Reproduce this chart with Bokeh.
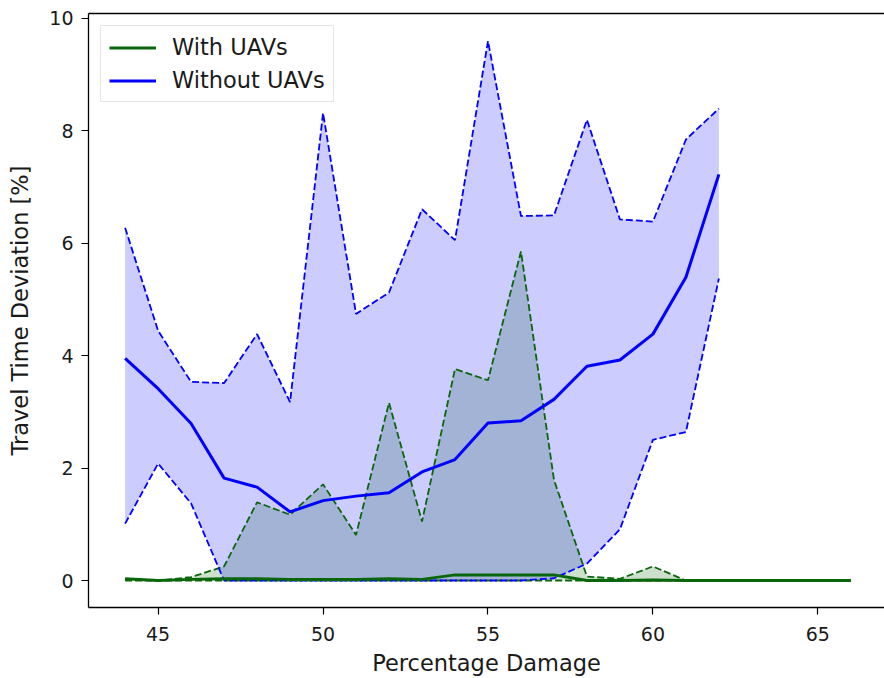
from bokeh.plotting import figure
from bokeh.models import Range1d, LinearAxis, FixedTicker, Legend, LegendItem
from bokeh.embed import file_html
from bokeh.resources import INLINE

# ---- data ----
damage_without = [44, 45, 46, 47, 48, 49, 50, 51, 52, 53, 54, 55, 56, 57, 58, 59, 60, 61, 62]
without_mean = [3.95, 3.41, 2.79, 1.82, 1.66, 1.22, 1.42, 1.50, 1.56, 1.93, 2.15, 2.80,
                2.84, 3.22, 3.81, 3.92, 4.38, 5.39, 7.22]
without_upper = [6.27, 4.44, 3.53, 3.51, 4.38, 3.17, 8.31, 4.74, 5.12, 6.60, 6.05, 9.59,
                 6.48, 6.49, 8.19, 6.42, 6.38, 7.84, 8.39]
without_lower = [1.01, 2.08, 1.37, 0.0, 0.0, 0.0, 0.0, 0.0, 0.0, 0.0, 0.0, 0.0,
                 0.0, 0.04, 0.30, 0.91, 2.50, 2.64, 5.37]

damage_with = [44, 45, 46, 47, 48, 49, 50, 51, 52, 53, 54, 55, 56, 57, 58, 59, 60, 61,
               62, 63, 64, 65, 66]
with_mean = [0.03, 0.0, 0.02, 0.03, 0.03, 0.02, 0.02, 0.02, 0.03, 0.02, 0.10, 0.10,
             0.10, 0.10, 0.0, 0.0, 0.01, 0.0, 0.0, 0.0, 0.0, 0.0, 0.0]
with_upper = [0.03, 0.0, 0.06, 0.25, 1.39, 1.17, 1.71, 0.81, 3.16, 1.05, 3.76, 3.56,
              5.85, 1.79, 0.07, 0.03, 0.25, 0.0, 0.0, 0.0, 0.0, 0.0, 0.0]
with_lower = [0.0] * len(damage_with)

x_ticks = [45, 50, 55, 60, 65]
y_ticks = [0, 2, 4, 6, 8, 10]

x_label = "Percentage Damage"
y_label = "Travel Time Deviation [%]"
legend_labels = ["With UAVs", "Without UAVs"]

# ---- styles ----
GREEN = "#0a660a"
BLUE = "#0000ff"
FONT = "DejaVu Sans"
TXT = "#1a1a1a"

p = figure(width=884, height=678, output_backend="svg", toolbar_location=None,
           x_range=Range1d(42.89, 67.02), y_range=Range1d(-0.48, 10.08),
           min_border_left=88, min_border_right=0, min_border_top=13, min_border_bottom=70)
p.outline_line_color = None
p.xgrid.visible = False
p.ygrid.visible = False
p.background_fill_color = "white"
p.border_fill_color = "white"

for ax in (p.xaxis[0], p.yaxis[0]):
    ax.major_label_text_font = FONT
    ax.major_label_text_font_size = "19px"
    ax.major_label_text_color = TXT
    ax.axis_label_text_font = FONT
    ax.axis_label_text_font_size = "22.5px"
    ax.axis_label_text_font_style = "normal"
    ax.axis_label_text_color = TXT
    ax.axis_line_color = "black"
    ax.axis_line_width = 1.3
    ax.major_tick_line_color = "black"
    ax.major_tick_line_width = 1.2
    ax.major_tick_out = 7
    ax.major_tick_in = 0
    ax.minor_tick_line_color = None

p.xaxis[0].ticker = FixedTicker(ticks=x_ticks)
p.yaxis[0].ticker = FixedTicker(ticks=y_ticks)
p.xaxis[0].axis_label = x_label
p.yaxis[0].axis_label = y_label
p.xaxis[0].major_label_standoff = 12
p.xaxis[0].axis_label_standoff = 6
p.yaxis[0].major_label_standoff = 8
p.yaxis[0].axis_label_standoff = 13

top = LinearAxis(ticker=FixedTicker(ticks=[]), major_label_text_font_size="0px",
                 major_tick_out=0, major_tick_in=0, minor_tick_out=0, minor_tick_in=0,
                 axis_line_color="black", axis_line_width=1.3)
p.add_layout(top, "above")

# fills (green band first, blue band over it)
p.varea(x=damage_with, y1=with_lower, y2=with_upper, fill_color="#006400", fill_alpha=0.2)
p.varea(x=damage_without, y1=without_lower, y2=without_upper, fill_color=BLUE, fill_alpha=0.2)

# dashed bounds
p.line(damage_with, with_upper, line_color=GREEN, line_width=1.8, line_dash="7 3")
p.line(damage_with, with_lower, line_color=GREEN, line_width=1.8, line_dash="7 3")
p.line(damage_without, without_upper, line_color=BLUE, line_width=1.8, line_dash="7 3")
p.line(damage_without, without_lower, line_color=BLUE, line_width=1.8, line_dash="7 3")

# means
r_with = p.line(damage_with, with_mean, line_color=GREEN, line_width=3)
r_without = p.line(damage_without, without_mean, line_color=BLUE, line_width=3)

legend = Legend(items=[LegendItem(label=legend_labels[0], renderers=[r_with]),
                       LegendItem(label=legend_labels[1], renderers=[r_without])],
                location="top_left")
legend.label_text_font = FONT
legend.label_text_font_size = "22.5px"
legend.label_text_color = TXT
legend.glyph_width = 47
legend.glyph_height = 25
legend.label_height = 25
legend.label_standoff = 16
legend.spacing = 7
legend.padding = 8
legend.margin = 12
legend.border_line_color = "#cccccc"
legend.border_line_width = 1
legend.background_fill_alpha = 0.8
p.add_layout(legend, "center")

open("out.html", "w").write(file_html(p, INLINE))
